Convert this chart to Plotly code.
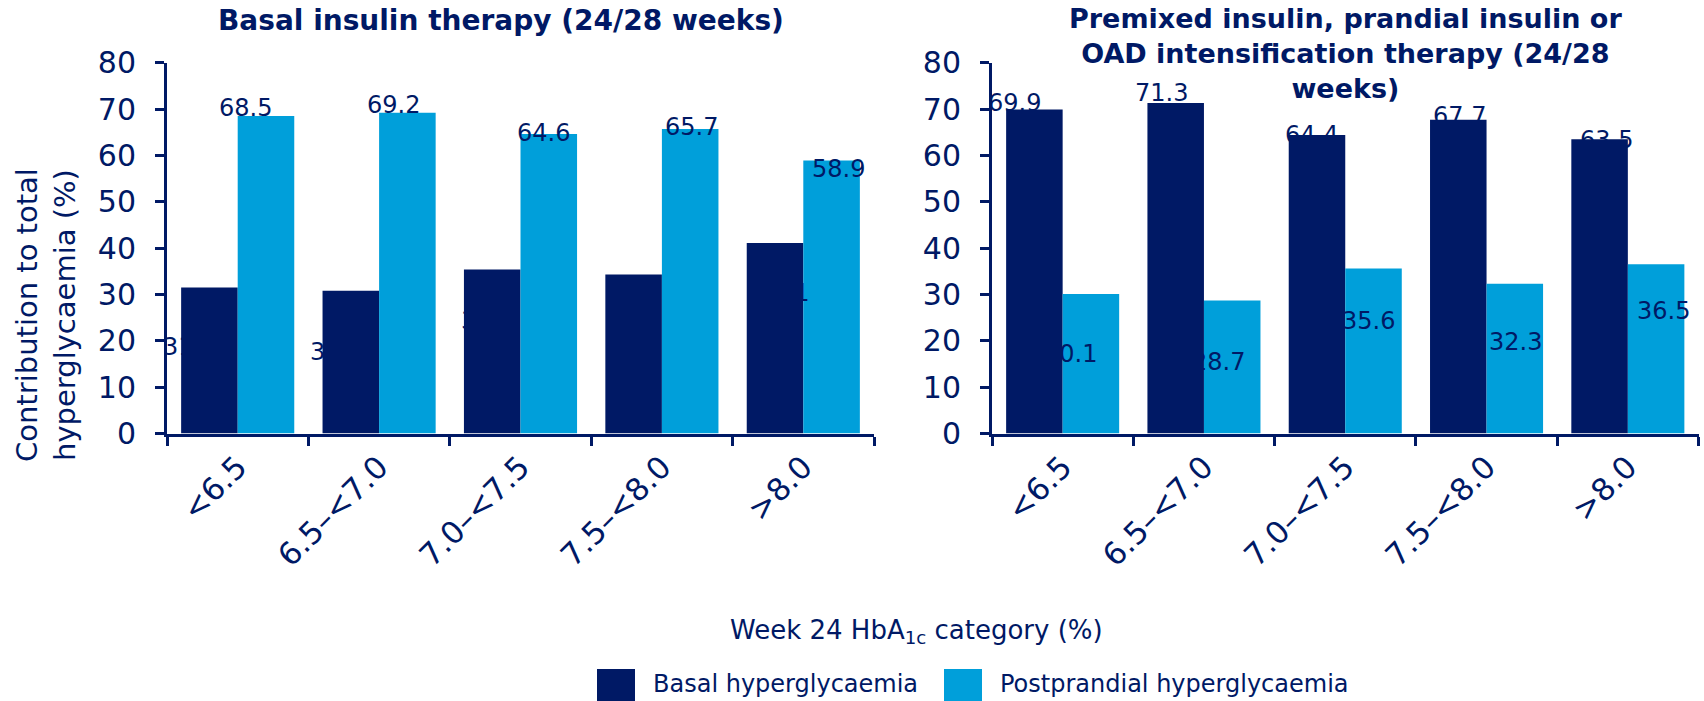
import plotly.graph_objects as go

# HbA1c categories at week 24 (%)
categories = ["<6.5", "6.5–<7.0", "7.0–<7.5", "7.5–<8.0", ">8.0"]

# Contribution to total hyperglycaemia (%) — basal insulin therapy
basal_therapy_basal = [31.5, 30.8, 35.4, 34.3, 41.1]
basal_therapy_postprandial = [68.5, 69.2, 64.6, 65.7, 58.9]

# Contribution to total hyperglycaemia (%) — premixed / prandial / OAD intensification
intens_therapy_basal = [69.9, 71.3, 64.4, 67.7, 63.5]
intens_therapy_postprandial = [30.1, 28.7, 35.6, 32.3, 36.5]

panel_titles = [
    "Basal insulin therapy (24/28 weeks)",
    "Premixed insulin, prandial insulin or<br>OAD intensification therapy (24/28<br>weeks)",
]
series_names = ["Basal hyperglycaemia", "Postprandial hyperglycaemia"]
y_ticks = [0, 10, 20, 30, 40, 50, 60, 70, 80]

# ---- styling ----
NAVY = "#001965"
CYAN = "#009FDA"
FONT = "DejaVu Sans"
W, H = 1704, 701

# label nudges in pixels (per category): horizontal, and vertical relative to bar top
LABEL_DX = [-20, -14, -5, 1, 7]
LEFT_BASAL_DY = [-59, -61, -52, -58, -50]
LEFT_PP_DY = [8, 8, 1, 2, -8]
RIGHT_BASAL_DY = [7, 10, 0, 4, -1]
RIGHT_PP_DY = [-60, -62, -53, -58, -47]


def px_x(p):
    return p / W


def px_y(p):
    return (H - p) / H


fig = go.Figure()

panels = [
    ("x", "y", basal_therapy_basal, basal_therapy_postprandial, LEFT_BASAL_DY, LEFT_PP_DY),
    ("x2", "y2", intens_therapy_basal, intens_therapy_postprandial, RIGHT_BASAL_DY, RIGHT_PP_DY),
]

for xa, ya, b_vals, p_vals, b_dy, p_dy in panels:
    fig.add_trace(go.Bar(x=categories, y=b_vals, name=series_names[0], marker_color=NAVY,
                         marker_line_width=0, xaxis=xa, yaxis=ya, showlegend=False))
    fig.add_trace(go.Bar(x=categories, y=p_vals, name=series_names[1], marker_color=CYAN,
                         marker_line_width=0, xaxis=xa, yaxis=ya, showlegend=False))
    for i in range(len(categories)):
        for off, vals, dys in ((-0.2, b_vals, b_dy), (0.2, p_vals, p_dy)):
            fig.add_annotation(
                x=i + off, y=vals[i], xref=xa, yref=ya,
                text=f"{vals[i]:.1f}", showarrow=False,
                xanchor="center", yanchor="middle",
                xshift=LABEL_DX[i], yshift=dys[i],
                font=dict(family=FONT, size=24, color=NAVY),
            )

axis_common = dict(
    showline=True, linecolor=NAVY, linewidth=3,
    ticks="outside", tickcolor=NAVY, tickwidth=3, ticklen=9,
    showgrid=False, zeroline=False, automargin=False,
    tickfont=dict(family=FONT, size=30, color=NAVY),
)

x_common = dict(axis_common, type="category", tickson="boundaries", tickangle=-45,
                range=[-0.5, 4.5], tickfont=dict(family=FONT, size=31, color=NAVY))
y_common = dict(axis_common, range=[0, 80], tickvals=y_ticks,
                domain=[px_y(433.5), px_y(62.7)], ticklabelstandoff=13)

fig.update_layout(
    width=W, height=H,
    margin=dict(l=0, r=0, t=0, b=0, autoexpand=False),
    paper_bgcolor="white", plot_bgcolor="white",
    bargap=0.2, bargroupgap=0, barmode="group",
    showlegend=False,
    xaxis=dict(x_common, domain=[px_x(167), px_x(874)], anchor="y"),
    yaxis=dict(y_common, anchor="x"),
    xaxis2=dict(x_common, domain=[px_x(992), px_x(1698.5)], anchor="y2"),
    yaxis2=dict(y_common, anchor="x2"),
)

# panel titles
fig.add_annotation(x=px_x(501), y=px_y(20), xref="paper", yref="paper",
                   text=f"<b>{panel_titles[0]}</b>", showarrow=False,
                   xanchor="center", yanchor="middle",
                   font=dict(family=FONT, size=28, color=NAVY))
fig.add_annotation(x=px_x(1345), y=px_y(54), xref="paper", yref="paper",
                   text=f"<b>{panel_titles[1]}</b>", showarrow=False,
                   xanchor="center", yanchor="middle",
                   font=dict(family=FONT, size=27, color=NAVY))

# y-axis title
fig.add_annotation(x=px_x(46), y=px_y(315), xref="paper", yref="paper",
                   text="Contribution to total<br>hyperglycaemia (%)", showarrow=False,
                   textangle=-90, xanchor="center", yanchor="middle",
                   font=dict(family=FONT, size=29, color=NAVY))

# x-axis title
fig.add_annotation(x=px_x(916), y=px_y(631), xref="paper", yref="paper",
                   text="Week 24 HbA<sub>1c</sub> category (%)", showarrow=False,
                   xanchor="center", yanchor="middle",
                   font=dict(family=FONT, size=26, color=NAVY))

# legend
for x0, colour, label in ((597, NAVY, series_names[0]), (944, CYAN, series_names[1])):
    fig.add_shape(type="rect", xref="paper", yref="paper",
                  x0=px_x(x0), x1=px_x(x0 + 38), y0=px_y(710), y1=px_y(669),
                  fillcolor=colour, line_width=0)
    fig.add_annotation(x=px_x(x0 + 54), y=px_y(684), xref="paper", yref="paper",
                       text=label, showarrow=False, xanchor="left", yanchor="middle",
                       font=dict(family=FONT, size=24, color=NAVY))

fig.write_html("out.html")
